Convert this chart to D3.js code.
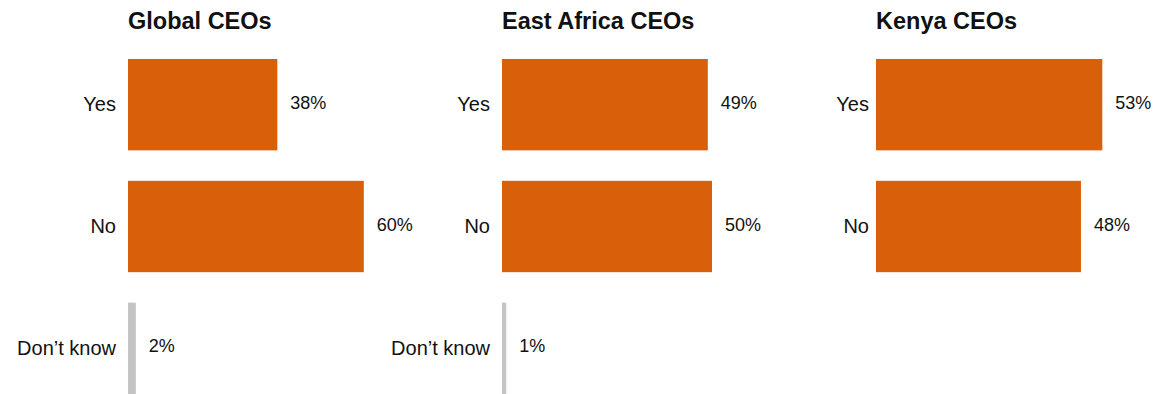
<!DOCTYPE html>
<html>
<head>
<meta charset="utf-8">
<script src="https://cdn.jsdelivr.net/npm/d3@7"></script>
<style>
  html, body { margin: 0; padding: 0; background: #fff; }
  svg { display: block; font-family: "Liberation Sans", Arial, Helvetica, sans-serif; }
</style>
</head>
<body>
<svg id="chart" width="1166" height="394"></svg>
<script>
// Survey answers by CEO group (percent of respondents)
const categories = ["Yes", "No", "Don\u2019t know"];
const panelTitles = ["Global CEOs", "East Africa CEOs", "Kenya CEOs"];
const globalValues = [38, 60, 2];
const eastAfricaValues = [49, 50, 1];
const kenyaValues = [53, 48, null];

const panels = [
  { title: panelTitles[0], values: globalValues, x0: 128, full: 393, labelGap: 12 },
  { title: panelTitles[1], values: eastAfricaValues, x0: 502, full: 420, labelGap: 12 },
  { title: panelTitles[2], values: kenyaValues, x0: 876, full: 427, labelGap: 7 }
];

const orange = "#D9600A";
const grey = "#C4C4C4";

const svg = d3.select("#chart");

const y = d3.scaleBand()
  .domain(categories)
  .range([59, 394])
  .paddingInner(0.25)
  .paddingOuter(0);

panels.forEach(p => {
  const x = d3.scaleLinear().domain([0, 100]).range([0, p.full]);
  const g = svg.append("g").attr("transform", `translate(${p.x0},0)`);

  g.append("text")
    .attr("x", 0)
    .attr("y", 29)
    .attr("font-size", 23.5)
    .attr("font-weight", "bold")
    .attr("fill", "#111")
    .text(p.title);

  const rows = categories
    .map((c, i) => ({ cat: c, value: p.values[i] }))
    .filter(d => d.value != null);

  g.selectAll("rect.bar")
    .data(rows)
    .join("rect")
    .attr("class", "bar")
    .attr("x", x(0))
    .attr("y", d => y(d.cat))
    .attr("width", d => x(d.value) - x(0))
    .attr("height", y.bandwidth())
    .attr("fill", d => d.cat === categories[2] ? grey : orange);

  g.selectAll("text.cat")
    .data(rows)
    .join("text")
    .attr("class", "cat")
    .attr("x", -p.labelGap)
    .attr("y", d => y(d.cat) + y.bandwidth() / 2 + 6.5)
    .attr("text-anchor", "end")
    .attr("font-size", 20)
    .attr("fill", "#111")
    .text(d => d.cat);

  g.selectAll("text.val")
    .data(rows)
    .join("text")
    .attr("class", "val")
    .attr("x", d => x(d.value) + 13)
    .attr("y", d => y(d.cat) + y.bandwidth() / 2 + 4)
    .attr("font-size", 18)
    .attr("fill", "#111")
    .text(d => d.value + "%");
});
</script>
</body>
</html>
